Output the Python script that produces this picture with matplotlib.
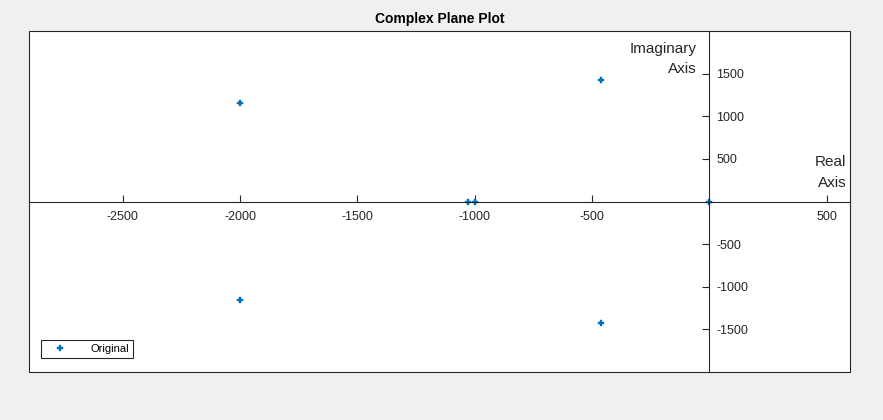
import numpy as np
import matplotlib.pyplot as plt
from matplotlib.patches import Rectangle

plt.rcParams['font.family'] = ['Liberation Sans', 'DejaVu Sans']
plt.rcParams['axes.unicode_minus'] = False

# Poles / roots
real_part = [-2000, -2000, -460, -460, -1030, -1000, 0]
imag_part = [1158, -1158, 1430, -1430, 0, 0, 0]

xticks = [-2500, -2000, -1500, -1000, -500, 500]
yticks = [-1500, -1000, -500, 500, 1000, 1500]

fig = plt.figure(figsize=(8.83, 4.2), dpi=100, facecolor='#f0f0f0')
ax = fig.add_axes([29/883, 1-372/420, (850-29)/883, (372-31)/420])
ax.set_facecolor('white')

ax.plot(real_part, imag_part, linestyle='none', marker='P', markersize=3.8,
        color='#0072BD', markeredgecolor='#0072BD', markeredgewidth=0.3,
        label='Original')

ax.set_xlim(-2900, 600)
ax.set_ylim(-2000, 2000)

# axes through the origin
ax.spines['left'].set_visible(False)
ax.spines['top'].set_visible(False)
ax.spines['bottom'].set_position(('data', 0))
ax.spines['right'].set_position(('data', 0))
for s in ['bottom', 'right']:
    ax.spines[s].set_linewidth(0.8)
    ax.spines[s].set_color('#262626')
ax.yaxis.tick_right()
ax.set_xticks(xticks)
ax.set_yticks(yticks)
ax.tick_params(axis='both', direction='in', length=5, width=0.8, colors='#262626',
               labelsize=9)
ax.tick_params(axis='x', pad=7)
ax.tick_params(axis='y', pad=5)

# outer box
ax.add_patch(Rectangle((0, 0), 1, 1, transform=ax.transAxes, fill=False,
                       edgecolor='#262626', linewidth=0.8, clip_on=False, zorder=5))

ax.text(-55, 1675, 'Imaginary\nAxis', ha='right', va='center', fontsize=11,
        color='#262626', linespacing=1.55)
ax.text(584, 340, 'Real\nAxis', ha='right', va='center', fontsize=11,
        color='#262626', linespacing=1.55)

ax.set_title('Complex Plane Plot', fontsize=10, fontweight='bold', pad=6)

leg = ax.legend(loc='lower left', bbox_to_anchor=(12/821, 14/341), fontsize=8,
                fancybox=False, edgecolor='#262626', framealpha=1,
                borderpad=0.35, handletextpad=1.3, handlelength=2.8, borderaxespad=0)
leg.get_frame().set_linewidth(0.8)

fig.savefig('out.png', dpi=100, facecolor=fig.get_facecolor())
